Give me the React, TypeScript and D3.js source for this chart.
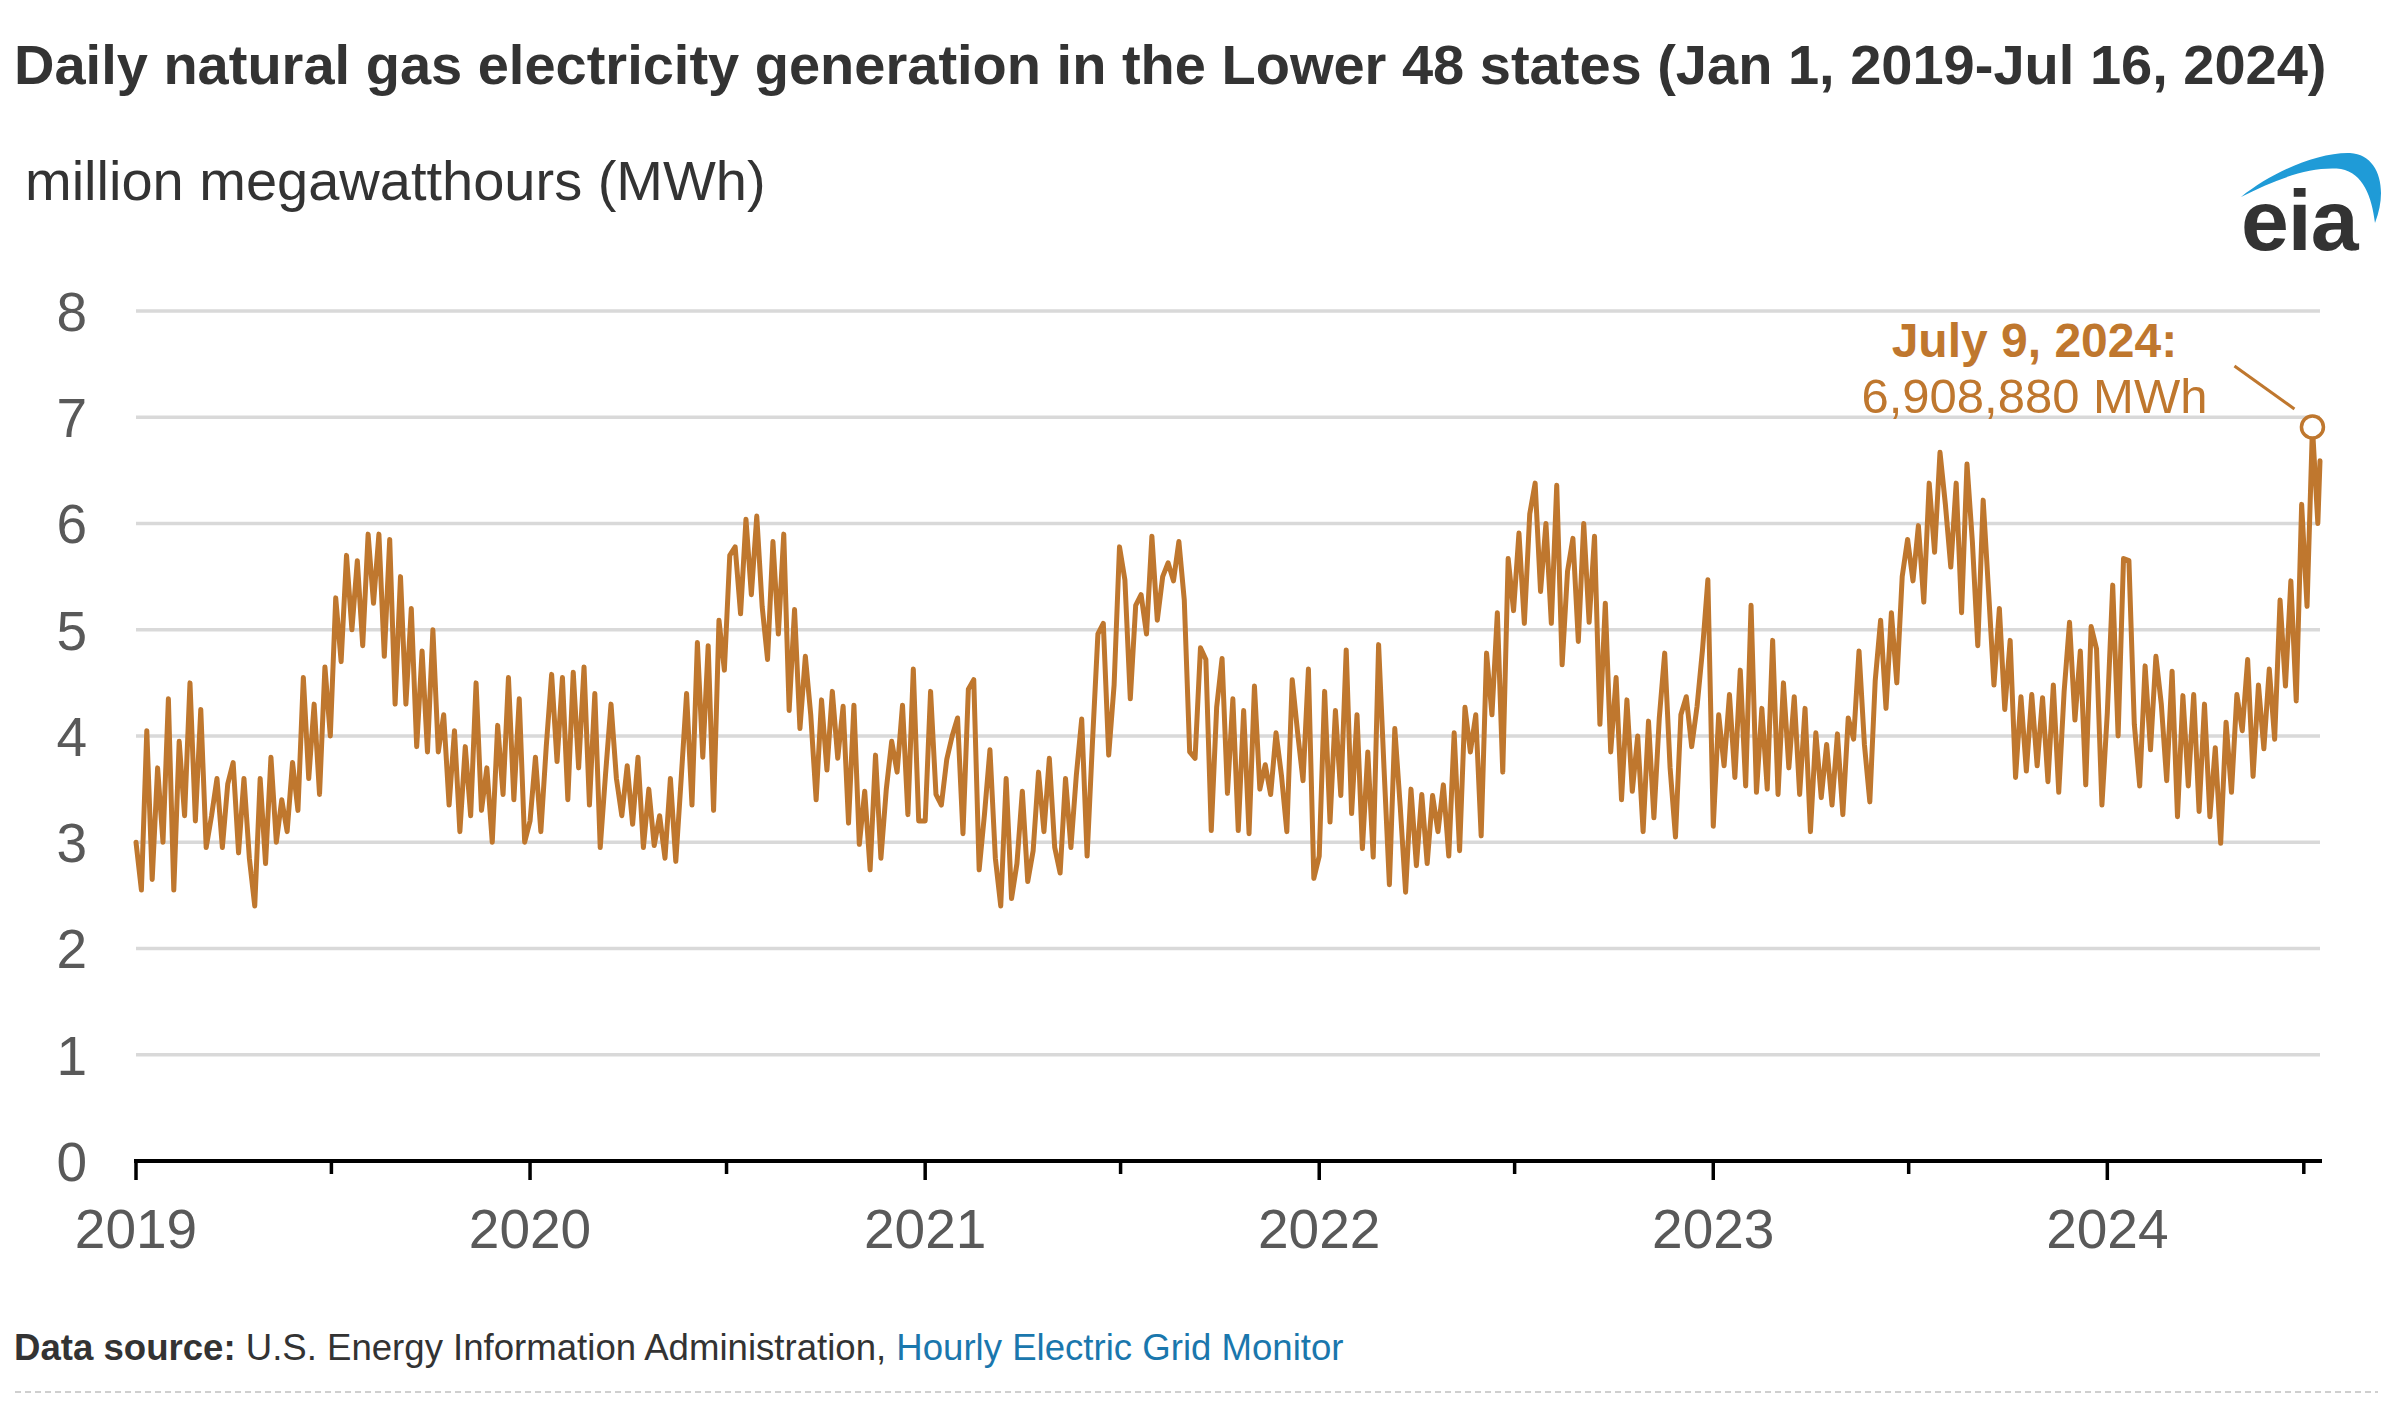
import * as d3 from "d3";

const title =
  "Daily natural gas electricity generation in the Lower 48 states (Jan 1, 2019-Jul 16, 2024)";
const unitLabel = "million megawatthours (MWh)";
const yTicks = [0, 1, 2, 3, 4, 5, 6, 7, 8];
const yearLabels = ["2019", "2020", "2021", "2022", "2023", "2024"];

// daily generation (million MWh), read every 5 days from Jan 1 of each year
const stepDays = 5;
const gen2019 = [
  3.0, 2.55, 4.05, 2.65, 3.7, 3.0, 4.35, 2.55, 3.95, 3.25,
  4.5, 3.2, 4.25, 2.95, 3.25, 3.6, 2.95, 3.55, 3.75, 2.9,
  3.6, 2.85, 2.4, 3.6, 2.8, 3.8, 3.0, 3.4, 3.1, 3.75,
  3.3, 4.55, 3.6, 4.3, 3.45, 4.65, 4.0, 5.3, 4.7, 5.7,
  5.0, 5.65, 4.85, 5.9, 5.25, 5.9, 4.75, 5.85, 4.3, 5.5,
  4.3, 5.2, 3.9, 4.8, 3.85, 5.0, 3.85, 4.2, 3.35, 4.05,
  3.1, 3.9, 3.25, 4.5, 3.3, 3.7, 3.0, 4.1, 3.45, 4.55,
  3.4, 4.35, 3.0,
];
const gen2020 = [
  3.2, 3.8, 3.1, 3.9, 4.58, 3.76, 4.55, 3.4, 4.6, 3.7,
  4.65, 3.35, 4.4, 2.95, 3.65, 4.3, 3.6, 3.25, 3.72, 3.17,
  3.8, 2.95, 3.5, 2.97, 3.25, 2.85, 3.6, 2.82, 3.6, 4.4,
  3.35, 4.88, 3.8, 4.85, 3.3, 5.09, 4.62, 5.7, 5.78, 5.15,
  6.04, 5.33, 6.07, 5.22, 4.72, 5.83, 4.96, 5.9, 4.24, 5.19,
  4.07, 4.75, 4.2, 3.4, 4.34, 3.68, 4.42, 3.79, 4.28, 3.18,
  4.29, 2.98, 3.48, 2.74, 3.82, 2.85, 3.5, 3.95, 3.66, 4.29,
  3.26, 4.63, 3.2,
];
const gen2021 = [
  3.2, 4.42, 3.45, 3.35, 3.78, 4.0, 4.17, 3.08, 4.44, 4.53,
  2.74, 3.27, 3.87, 2.85, 2.4, 3.6, 2.47, 2.8, 3.48, 2.63,
  2.92, 3.66, 3.1, 3.79, 2.95, 2.71, 3.6, 2.95, 3.63, 4.16,
  2.87, 3.95, 4.96, 5.06, 3.82, 4.48, 5.78, 5.47, 4.35, 5.23,
  5.33, 4.96, 5.88, 5.09, 5.5, 5.63, 5.46, 5.83, 5.28, 3.85,
  3.79, 4.83, 4.72, 3.11, 4.27, 4.73, 3.46, 4.35, 3.11, 4.24,
  3.08, 4.47, 3.5, 3.73, 3.45, 4.03, 3.63, 3.1, 4.53, 4.03,
  3.58, 4.63, 2.66,
];
const gen2022 = [
  2.87, 4.42, 3.19, 4.24, 3.44, 4.81, 3.27, 4.2, 2.94, 3.85,
  2.86, 4.86, 3.7, 2.6, 4.07, 3.34, 2.53, 3.5, 2.78, 3.45,
  2.8, 3.44, 3.1, 3.54, 2.87, 4.03, 2.92, 4.27, 3.85, 4.2,
  3.06, 4.78, 4.2, 5.16, 3.66, 5.67, 5.18, 5.91, 5.06, 6.09,
  6.38, 5.36, 6.0, 5.06, 6.36, 4.67, 5.55, 5.86, 4.89, 6.0,
  5.07, 5.88, 4.11, 5.25, 3.85, 4.55, 3.4, 4.34, 3.48, 4.0,
  3.1, 4.14, 3.23, 4.17, 4.78, 3.7, 3.05, 4.2, 4.37, 3.9,
  4.28, 4.81, 5.47,
];
const gen2023 = [
  3.15, 4.2, 3.72, 4.39, 3.61, 4.62, 3.53, 5.23, 3.47, 4.26,
  3.5, 4.9, 3.45, 4.5, 3.7, 4.37, 3.45, 4.26, 3.1, 4.03,
  3.42, 3.92, 3.35, 4.02, 3.26, 4.17, 3.97, 4.8, 3.92, 3.38,
  4.52, 5.09, 4.26, 5.16, 4.5, 5.5, 5.85, 5.46, 5.98, 5.26,
  6.38, 5.73, 6.67, 6.18, 5.59, 6.38, 5.16, 6.56, 5.83, 4.85,
  6.22, 5.36, 4.48, 5.2, 4.25, 4.9, 3.61, 4.37, 3.67, 4.39,
  3.72, 4.36, 3.57, 4.48, 3.47, 4.42, 5.07, 4.15, 4.8, 3.54,
  5.03, 4.82, 3.35,
];
const gen2024 = [
  4.22, 5.42, 4.0, 5.67, 5.65, 4.11, 3.53, 4.66, 3.87, 4.75,
  4.3, 3.58, 4.61, 3.24, 4.38, 3.53, 4.39, 3.29, 4.3, 3.24,
  3.89, 2.99, 4.13, 3.47, 4.39, 4.05, 4.72, 3.62, 4.48, 3.88,
  4.63, 3.97, 5.28, 4.47, 5.46, 4.33, 6.18, 5.22, 6.90888, 6.0,
];
const lastDate = "2024-07-16";
const lastValue = 6.59;

const startDate = "2019-01-01";
const peakDate = "2024-07-09";
const peakValue = 6.90888;
const peakLabel = "July 9, 2024:";
const peakValueLabel = "6,908,880 MWh";

const W = 2390;
const H = 1415;
const FONT = "'Liberation Sans', Arial, Helvetica, sans-serif";
const LINE_COLOR = "#bf772e";

export default function App() {
  const parse = d3.timeParse("%Y-%m-%d");
  const byYear: [string, number[]][] = [
    [yearLabels[0], gen2019],
    [yearLabels[1], gen2020],
    [yearLabels[2], gen2021],
    [yearLabels[3], gen2022],
    [yearLabels[4], gen2023],
    [yearLabels[5], gen2024],
  ];
  const series = byYear
    .flatMap(([yr, vals]) =>
      vals.map((v, i) => ({
        date: d3.timeDay.offset(new Date(+yr, 0, 1), i * stepDays),
        value: v,
      }))
    )
    .concat([{ date: parse(lastDate)!, value: lastValue }]);

  const x = d3
    .scaleTime()
    .domain([parse(startDate)!, parse(lastDate)!])
    .range([136, 2320]);
  const y = d3.scaleLinear().domain([0, 8]).range([1161, 311]);

  const line = d3
    .line<{ date: Date; value: number }>()
    .x((d) => x(d.date))
    .y((d) => y(d.value));

  const majorTicks = x.ticks(d3.timeYear.every(1)!);
  const minorTicks = d3.timeMonth
    .range(parse(startDate)!, parse(lastDate)!)
    .filter((d) => d.getMonth() === 6);

  const px = x(parse(peakDate)!);
  const py = y(peakValue);

  return (
    <div style={{ position: "absolute", left: 0, top: 0 }}>
      <svg width={W} height={H} style={{ display: "block", background: "#fff" }} fontFamily={FONT}>
        <rect width={W} height={H} fill="#fff" />
        <text x={14} y={84} fontSize={56} fontWeight="bold" fill="#333">
          {title}
        </text>
        <text x={25} y={200} fontSize={56} fill="#333">
          {unitLabel}
        </text>

        {/* eia logo */}
        <path
          d="M2241,197 C2272,172 2318,152 2350,153 C2380,155 2388,190 2375,223 C2372,197 2363,173 2341,169 C2311,166 2276,179 2241,197 Z"
          fill="#1f9bd7"
        />
        <text x={2241} y={250} fontSize={86} fontWeight="bold" fill="#333" letterSpacing={-1}>
          eia
        </text>

        {/* grid */}
        {yTicks
          .filter((t) => t > 0)
          .map((t) => (
            <line key={t} x1={136} x2={2320} y1={y(t)} y2={y(t)} stroke="#d9d9d9" strokeWidth={3.5} />
          ))}
        {yTicks.map((t) => (
          <text key={t} x={87} y={y(t)} dy="0.36em" textAnchor="end" fontSize={55} fill="#595959">
            {t}
          </text>
        ))}

        {/* x axis */}
        <line x1={134} x2={2322} y1={y(0)} y2={y(0)} stroke="#000" strokeWidth={4} />
        {majorTicks.map((d) => (
          <line key={+d} x1={x(d)} x2={x(d)} y1={y(0)} y2={y(0) + 19} stroke="#000" strokeWidth={3.5} />
        ))}
        {minorTicks.map((d) => (
          <line key={+d} x1={x(d)} x2={x(d)} y1={y(0)} y2={y(0) + 13} stroke="#000" strokeWidth={3.5} />
        ))}
        {majorTicks.map((d, i) => (
          <text key={+d} x={x(d)} y={1248} textAnchor="middle" fontSize={55} fill="#595959">
            {yearLabels[i]}
          </text>
        ))}

        {/* series */}
        <path
          d={line(series) ?? ""}
          fill="none"
          stroke={LINE_COLOR}
          strokeWidth={5}
          strokeLinejoin="round"
          strokeLinecap="round"
        />

        {/* annotation */}
        <line x1={px - 78} y1={py - 61} x2={px - 18} y2={py - 18} stroke={LINE_COLOR} strokeWidth={3} />
        <circle cx={px} cy={py} r={11} fill="#fff" stroke={LINE_COLOR} strokeWidth={3.5} />
        <text x={px - 278} y={py - 70} textAnchor="middle" fontSize={48} fontWeight="bold" fill={LINE_COLOR}>
          {peakLabel}
        </text>
        <text x={px - 278} y={py - 14} textAnchor="middle" fontSize={49} fill={LINE_COLOR}>
          {peakValueLabel}
        </text>

        {/* source */}
        <text x={14} y={1360} fontSize={36.6} fill="#333">
          <tspan fontWeight="bold">Data source:</tspan>
          <tspan> U.S. Energy Information Administration, </tspan>
          <tspan fill="#1a77ad">Hourly Electric Grid Monitor</tspan>
        </text>
        <line x1={15} x2={2378} y1={1392} y2={1392} stroke="#cfcfcf" strokeWidth={2} strokeDasharray="6 4" />
      </svg>
    </div>
  );
}
